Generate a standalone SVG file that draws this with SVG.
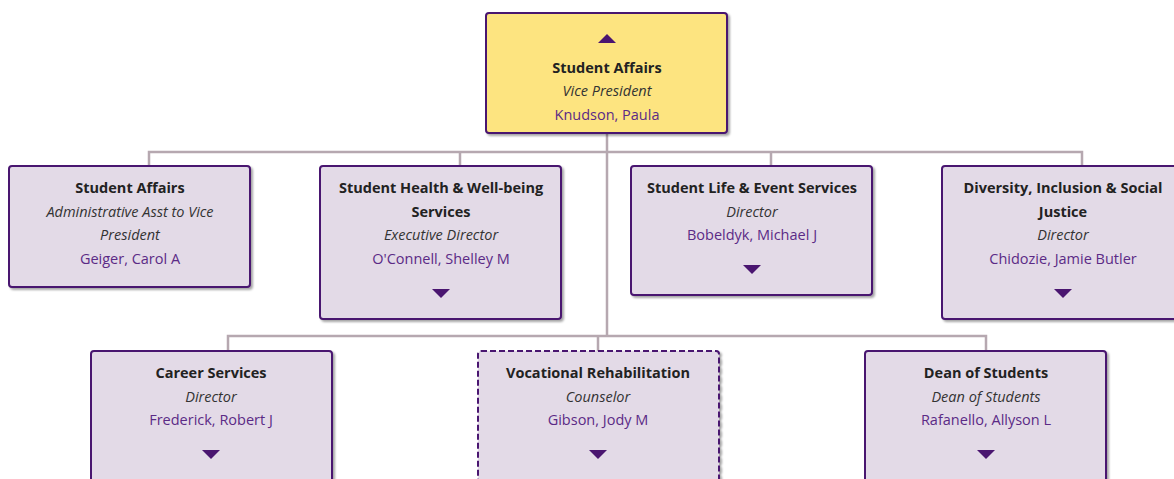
<svg xmlns="http://www.w3.org/2000/svg" width="1174" height="479" viewBox="0 0 1174 479">
<defs>
<style>
.box{fill:#e3dae7;stroke:#4a1570;stroke-width:2}
.top{fill:#fde480;stroke:#4a1570;stroke-width:2}
.dash{stroke-dasharray:6 3}
.t{font-family:"Open Sans","Noto Sans",sans-serif;font-size:14.5px;text-anchor:middle}
.b{font-weight:bold;fill:#222}
.i{font-style:italic;fill:#333}
.n{fill:#5b2a86}
.tri{fill:#4a1570}
.c{fill:none;stroke:#b6a8b0;stroke-width:2.5}
</style>
<filter id="sh" x="-10%" y="-10%" width="120%" height="130%">
<feDropShadow dx="2" dy="2" stdDeviation="1.2" flood-color="#000" flood-opacity="0.35"/>
</filter>
</defs>
<rect width="1174" height="479" fill="#fff"/>
<g id="connectors">
<path class="c" d="M607 133V336M149 166V152H1082V166M460 152V166M771 152V166M228 351V336H986V351M598 336V351"/>
</g>
<g id="n0">
<rect class="top" x="486" y="13" width="241" height="120" rx="3" filter="url(#sh)"/>
<path class="tri" d="M598 43L607 34L616 43Z"/>
<text class="t b" x="607" y="73">Student Affairs</text>
<text class="t i" x="607" y="96">Vice President</text>
<text class="t n" x="607" y="120">Knudson, Paula</text>
</g>
<g id="n1">
<rect class="box" x="9" y="166" width="241" height="121" rx="3" filter="url(#sh)"/>
<text class="t b" x="130" y="193">Student Affairs</text>
<text class="t i" x="130" y="217">Administrative Asst to Vice</text>
<text class="t i" x="130" y="240">President</text>
<text class="t n" x="130" y="264">Geiger, Carol A</text>
</g>
<g id="n2">
<rect class="box" x="320" y="166" width="241" height="153" rx="3" filter="url(#sh)"/>
<text class="t b" x="441" y="193">Student Health &amp; Well-being</text>
<text class="t b" x="441" y="217">Services</text>
<text class="t i" x="441" y="240">Executive Director</text>
<text class="t n" x="441" y="264">O'Connell, Shelley M</text>
<path class="tri" d="M432 289L450 289L441 298Z"/>
</g>
<g id="n3">
<rect class="box" x="631" y="166" width="241" height="129" rx="3" filter="url(#sh)"/>
<text class="t b" x="752" y="193">Student Life &amp; Event Services</text>
<text class="t i" x="752" y="217">Director</text>
<text class="t n" x="752" y="240">Bobeldyk, Michael J</text>
<path class="tri" d="M743 265L761 265L752 274Z"/>
</g>
<g id="n4">
<rect class="box" x="942" y="166" width="241" height="153" rx="3" filter="url(#sh)"/>
<text class="t b" x="1063" y="193">Diversity, Inclusion &amp; Social</text>
<text class="t b" x="1063" y="217">Justice</text>
<text class="t i" x="1063" y="240">Director</text>
<text class="t n" x="1063" y="264">Chidozie, Jamie Butler</text>
<path class="tri" d="M1054 289L1072 289L1063 298Z"/>
</g>
<g id="n5">
<rect class="box" x="91" y="351" width="241" height="140" rx="3" filter="url(#sh)"/>
<text class="t b" x="211" y="378">Career Services</text>
<text class="t i" x="211" y="402">Director</text>
<text class="t n" x="211" y="425">Frederick, Robert J</text>
<path class="tri" d="M202 450L220 450L211 459Z"/>
</g>
<g id="n6">
<rect class="box dash" x="478" y="351" width="241" height="140" rx="3" filter="url(#sh)"/>
<text class="t b" x="598" y="378">Vocational Rehabilitation</text>
<text class="t i" x="598" y="402">Counselor</text>
<text class="t n" x="598" y="425">Gibson, Jody M</text>
<path class="tri" d="M589 450L607 450L598 459Z"/>
</g>
<g id="n7">
<rect class="box" x="865" y="351" width="241" height="140" rx="3" filter="url(#sh)"/>
<text class="t b" x="986" y="378">Dean of Students</text>
<text class="t i" x="986" y="402">Dean of Students</text>
<text class="t n" x="986" y="425">Rafanello, Allyson L</text>
<path class="tri" d="M977 450L995 450L986 459Z"/>
</g>
</svg>
